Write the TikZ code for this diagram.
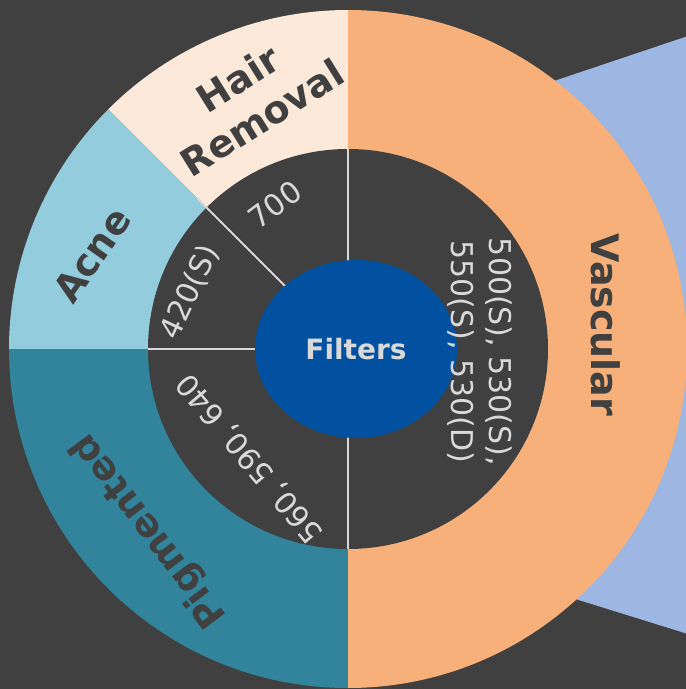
\documentclass[tikz,border=0pt]{standalone}
\usepackage{fontspec}
\setmainfont{DejaVu Sans}
\usetikzlibrary{shapes.geometric}
\definecolor{Canvas}{HTML}{404040}
\definecolor{Apricot}{HTML}{F7B07A}
\definecolor{Linen}{HTML}{FDE9DA}
\definecolor{Sky}{HTML}{93CDDD}
\definecolor{Lagoon}{HTML}{31849B}
\definecolor{Cobalt}{HTML}{0151A0}
\definecolor{Periwinkle}{HTML}{9DB6E2}
\definecolor{Mist}{HTML}{D9D9D9}

\begin{document}
\begin{tikzpicture}[x=1pt,y=1pt, ring/.style={font=\bfseries\fontsize{38}{46}\selectfont,text=Canvas,align=center}, filter/.style={font=\fontsize{30}{38}\selectfont,text=Mist,align=center}, divider/.style={draw=Mist,line width=1.8pt}]
\fill[Canvas] (-348,-340) rectangle (338,349);
\useasboundingbox (-348,-340) rectangle (338,349);
\fill[Periwinkle] (102,233) -- (340,313) -- (340,-285) -- (102,-211) -- cycle;
\fill[Apricot] (0,0) -- (-90:339) arc[start angle=-90,end angle=90,radius=339] -- cycle;
\fill[Linen] (0,0) -- (90:339) arc[start angle=90,end angle=135,radius=339] -- cycle;
\fill[Sky] (0,0) -- (135:339) arc[start angle=135,end angle=180,radius=339] -- cycle;
\fill[Lagoon] (0,0) -- (180:339) arc[start angle=180,end angle=270,radius=339] -- cycle;
\fill[Canvas] (0,0) circle[radius=200];
\foreach \a/\r in {90/200,135/213,180/200,270/200}
  \draw[divider] (0,0) -- (\a:\r);
\node[ellipse,fill=Cobalt,minimum width=202,minimum height=178,font=\bfseries\fontsize{28}{30}\selectfont,text=Mist] (filters) at (8,0) {Filters};
\node[ring,rotate=32] (hair) at (-98,251) {Hair\\Removal};
\node[ring,rotate=55] (acne) at (-256,94) {Acne};
\node[ring,rotate=-90] (vascular) at (258,24) {Vascular};
\node[ring,rotate=127] (pigmented) at (-198,-181) {Pigmented};
\node[filter,rotate=37] (f700) at (-73,144) {700};
\node[filter,rotate=65] (f420) at (-158,57) {420(S)};
\node[filter,rotate=130] (f560) at (-98,-109) {560, 590, 640};
\node[filter,rotate=-90] (f500) at (132,-3) {500(S), 530(S),\\550(S), 530(D)};
\end{tikzpicture}
\end{document}
